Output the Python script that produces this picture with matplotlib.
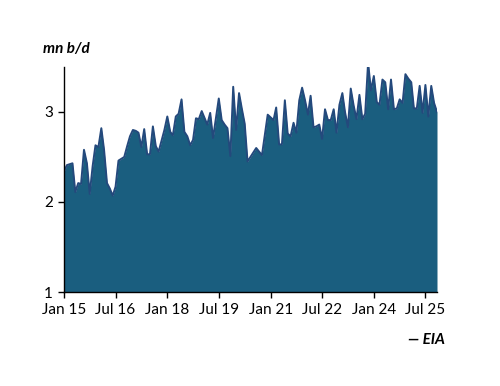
import pandas as pd
import matplotlib
matplotlib.use("Agg")
import matplotlib.pyplot as plt

# monthly output, mn b/d, Jan 2015 onwards
start = "2015-01-01"
values = [
    2.34, 2.41, 2.42, 2.43, 2.11, 2.21, 2.20, 2.58, 2.43, 2.09, 2.40, 2.63,
    2.61, 2.82, 2.58, 2.21, 2.15, 2.07, 2.17, 2.46, 2.48, 2.50, 2.62, 2.73,
    2.80, 2.79, 2.77, 2.61, 2.81, 2.53, 2.53, 2.84, 2.62, 2.56, 2.68, 2.80,
    2.95, 2.78, 2.74, 2.95, 2.98, 3.14, 2.78, 2.73, 2.63, 2.69, 2.93, 2.92,
    3.01, 2.93, 2.86, 2.99, 2.71, 2.93, 3.15, 2.91, 2.86, 2.82, 2.51, 3.28,
    2.80, 3.21, 3.04, 2.87, 2.45, 2.50, 2.55, 2.60, 2.56, 2.52, 2.75, 2.97,
    2.94, 2.91, 3.05, 2.64, 2.64, 3.13, 2.76, 2.73, 2.88, 2.77, 3.13, 3.27,
    3.13, 2.97, 3.18, 2.83, 2.84, 2.86, 2.70, 3.03, 2.91, 2.91, 3.03, 2.77,
    3.08, 3.21, 3.00, 2.83, 3.26, 3.07, 2.92, 3.19, 2.92, 2.98, 3.55, 3.24,
    3.40, 3.11, 3.08, 3.36, 3.33, 3.03, 3.36, 3.03, 3.04, 3.14, 3.10, 3.42,
    3.37, 3.33, 3.04, 3.04, 3.29, 2.99, 3.30, 2.95, 3.29, 3.10, 3.00,
]
dates = pd.date_range(start, periods=len(values), freq="MS")
tick_dates = pd.date_range(start, "2025-07-01", freq="18MS")
y_ticks = [1, 2, 3]

plt.rcParams["font.family"] = ["Lato", "DejaVu Sans"]

fig = plt.figure(figsize=(5, 3.86), dpi=100)
ax = fig.add_axes([0.128, 0.2435, 0.746, 0.583])

ax.fill_between(dates, values, 1, color="#1a5e7f", linewidth=0)
ax.plot(dates, values, color="#24497c", linewidth=1.4)

ax.set_xlim(dates[0], dates[-1])
ax.set_ylim(1, 3.5)
ax.set_yticks(y_ticks)
ax.set_xticks(tick_dates)
ax.set_xticklabels([d.strftime("%b %y") for d in tick_dates])

for s in ["top", "right"]:
    ax.spines[s].set_visible(False)
ax.spines["left"].set_linewidth(1)
ax.spines["bottom"].set_linewidth(1)
ax.tick_params(axis="both", direction="out", length=4, width=1, labelsize=11, colors="black", pad=4)

fig.text(0.086, 0.862, "mn b/d", fontsize=11, fontweight="bold", fontstyle="italic")
fig.text(0.89, 0.11, "\u2014 EIA", fontsize=11, fontweight="bold", fontstyle="italic", ha="right")

fig.savefig("out.png", dpi=100)
